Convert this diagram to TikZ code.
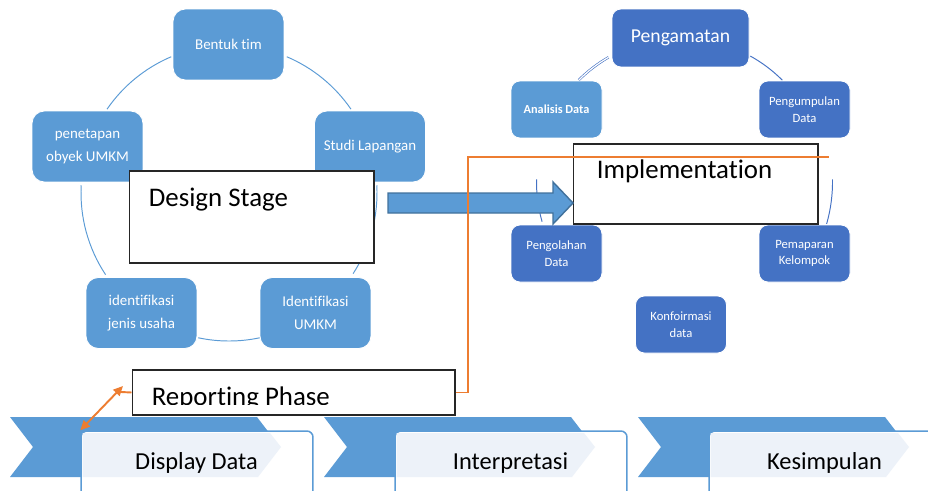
\documentclass[tikz,border=0pt]{standalone}
\usepackage{fontspec}
\setmainfont{Carlito}[RawFeature={-liga;-clig;-dlig;-calt;-rlig}]
\usetikzlibrary{arrows.meta,calc}
\definecolor{figL}{RGB}{91,155,213}
\definecolor{figD}{RGB}{68,114,196}
\definecolor{figE}{RGB}{65,113,156}
\definecolor{figO}{RGB}{237,125,49}
\definecolor{figP}{RGB}{237,242,249}

\begin{document}
\begin{tikzpicture}[x=0.02cm,y=-0.02cm,>={Triangle[length=5.5pt,width=5pt]},
  lbox/.style={draw=white,line width=0.5pt,fill=figL,rounded corners=7pt,text=white,align=center,
    minimum width=2.22cm,minimum height=1.42cm,inner sep=0pt,font=\fontsize{8.5}{13}\selectfont},
  rbox/.style={draw=white,line width=0.5pt,fill=figD,rounded corners=5pt,text=white,align=center,
    minimum width=1.82cm,minimum height=1.14cm,inner sep=0pt,font=\fontsize{7.2}{9.4}\selectfont},
  stagebox/.style={draw=black!85,fill=white,line width=0.6pt,inner sep=0pt},
  bigtxt/.style={anchor=base west,inner sep=0pt,font=\fontsize{15.3}{18}\selectfont},
  cycL/.style={figL,line width=0.55pt},
  cycD/.style={figD,line width=0.55pt}]
\useasboundingbox (0,0) rectangle (928,490);
\clip (0,0) rectangle (928,490);
% design cycle
\draw[cycL] (229,193) ++(-67:148) arc (-67:-34.5:148);
\draw[cycL] (229,193) ++(-113:148) arc (-113:-145.5:148);
\draw[cycL] (229,193) ++(-177:148) arc (-177:-213.5:148);
\draw[cycL] (229,193) ++(-3:148) arc (-3:33:148);
\draw[cycL] (229,193) ++(-258:148) arc (-258:-282:148);
\node[lbox] (tBentuk) at (228.5,44.5) {Bentuk tim};
\node[lbox] (tStudi) at (370,146.5) {Studi Lapangan};
\node[lbox] (tPenetap) at (87.5,146.5) {penetapan\\obyek UMKM};
\node[lbox] (tIdentJ) at (141.5,313) {identifikasi\\jenis usaha};
\node[lbox] (tIdentU) at (315.5,313) {Identifikasi\\UMKM};
% implementation cycle
\draw[cycD,double=white,double distance=0.7pt,line width=0.35pt] (680.5,182) ++(-120:144) arc (-120:-135:144);
\draw[cycD] (680.5,182) ++(-61:144) arc (-61:-45:144);
\draw[cycD] (680.5,182) ++(-179:144) arc (-179:-196:144);
\draw[cycD] (680.5,182) ++(-1:152) arc (-1:16:152);
\node[rbox,minimum width=2.74cm,minimum height=1.16cm,font=\fontsize{11.2}{13}\selectfont] (pAmat) at (680.5,38) {Pengamatan};
\node[rbox] (pKumpul) at (804.5,109.5) {Pengumpulan\\Data};
\node[rbox,fill=figL,font=\fontsize{7}{9.4}\selectfont\bfseries] (pAnalisis) at (556.5,109.5) {Analisis Data};
\node[rbox] (pOlah) at (556.5,253.5) {Pengolahan\\Data};
\node[rbox] (pPapar) at (804.5,253.5) {Pemaparan\\Kelompok};
\node[rbox] (pKonf) at (681,324.5) {Konfoirmasi\\data};
% stage boxes
\node[stagebox,minimum width=4.9cm,minimum height=1.84cm] (design) at (251.5,217) {};
\node[bigtxt] (designTxt) at ($(design.north west)+(20,36)$) {Design Stage};
\node[stagebox,minimum width=4.9cm,minimum height=1.6cm] (impl) at (695.5,184) {};
\node[bigtxt] (implTxt) at ($(impl.north west)+(24,35)$) {Implementation};
\draw[figE,fill=figL,line width=0.8pt] (388,193) -- (553,193) -- (553,182) -- (573,203) -- (553,224) -- (553,213) -- (388,213) -- cycle;
\node[stagebox,minimum width=6.46cm,minimum height=0.9cm] (report) at (293.5,392.5) {};
\begin{scope}
\clip ($(report.north west)+(1,1)$) rectangle ($(report.south east)+(-1,-11)$);
\node[bigtxt] (reportTxt) at ($(report.north west)+(20,36)$) {Reporting Phase};
\end{scope}
\coordinate (oBend) at (468,157);
\coordinate (oEnd) at (829,157);
\draw[figO,line width=1.1pt] (report.east) -| (oBend) -- (oEnd);
% phases
\foreach \lbl [count=\i from 0] in {Display Data,Interpretasi,Kesimpulan}{
\begin{scope}[shift={(314*\i,0)}]
\fill[figL] (10,417) -- (257,417) -- (280,447) -- (257,477) -- (10,477) -- (33,447) -- cycle;
\node[draw=figL,fill=white,line width=0.85pt,rounded corners=3.5pt,minimum width=4.64cm,minimum height=2cm,inner sep=0pt] (ph\i) at (197,481) {};
\fill[figP] (82.5,433) -- (270,433) -- (281,447) -- (258,477) -- (82.5,477) -- cycle;
\node[anchor=base,inner sep=0pt,font=\fontsize{13.9}{16}\selectfont] (phTxt\i) at (196.5,469) {\lbl};
\end{scope}}
\coordinate (oKink) at (121,392);
\coordinate (oTip) at (123,386);
\draw[figO,line width=1.1pt] (report.west) -- (oKink);
\draw[figO,line width=1.1pt,<->] (ph0.north west) -- (oTip);
\end{tikzpicture}
\end{document}
